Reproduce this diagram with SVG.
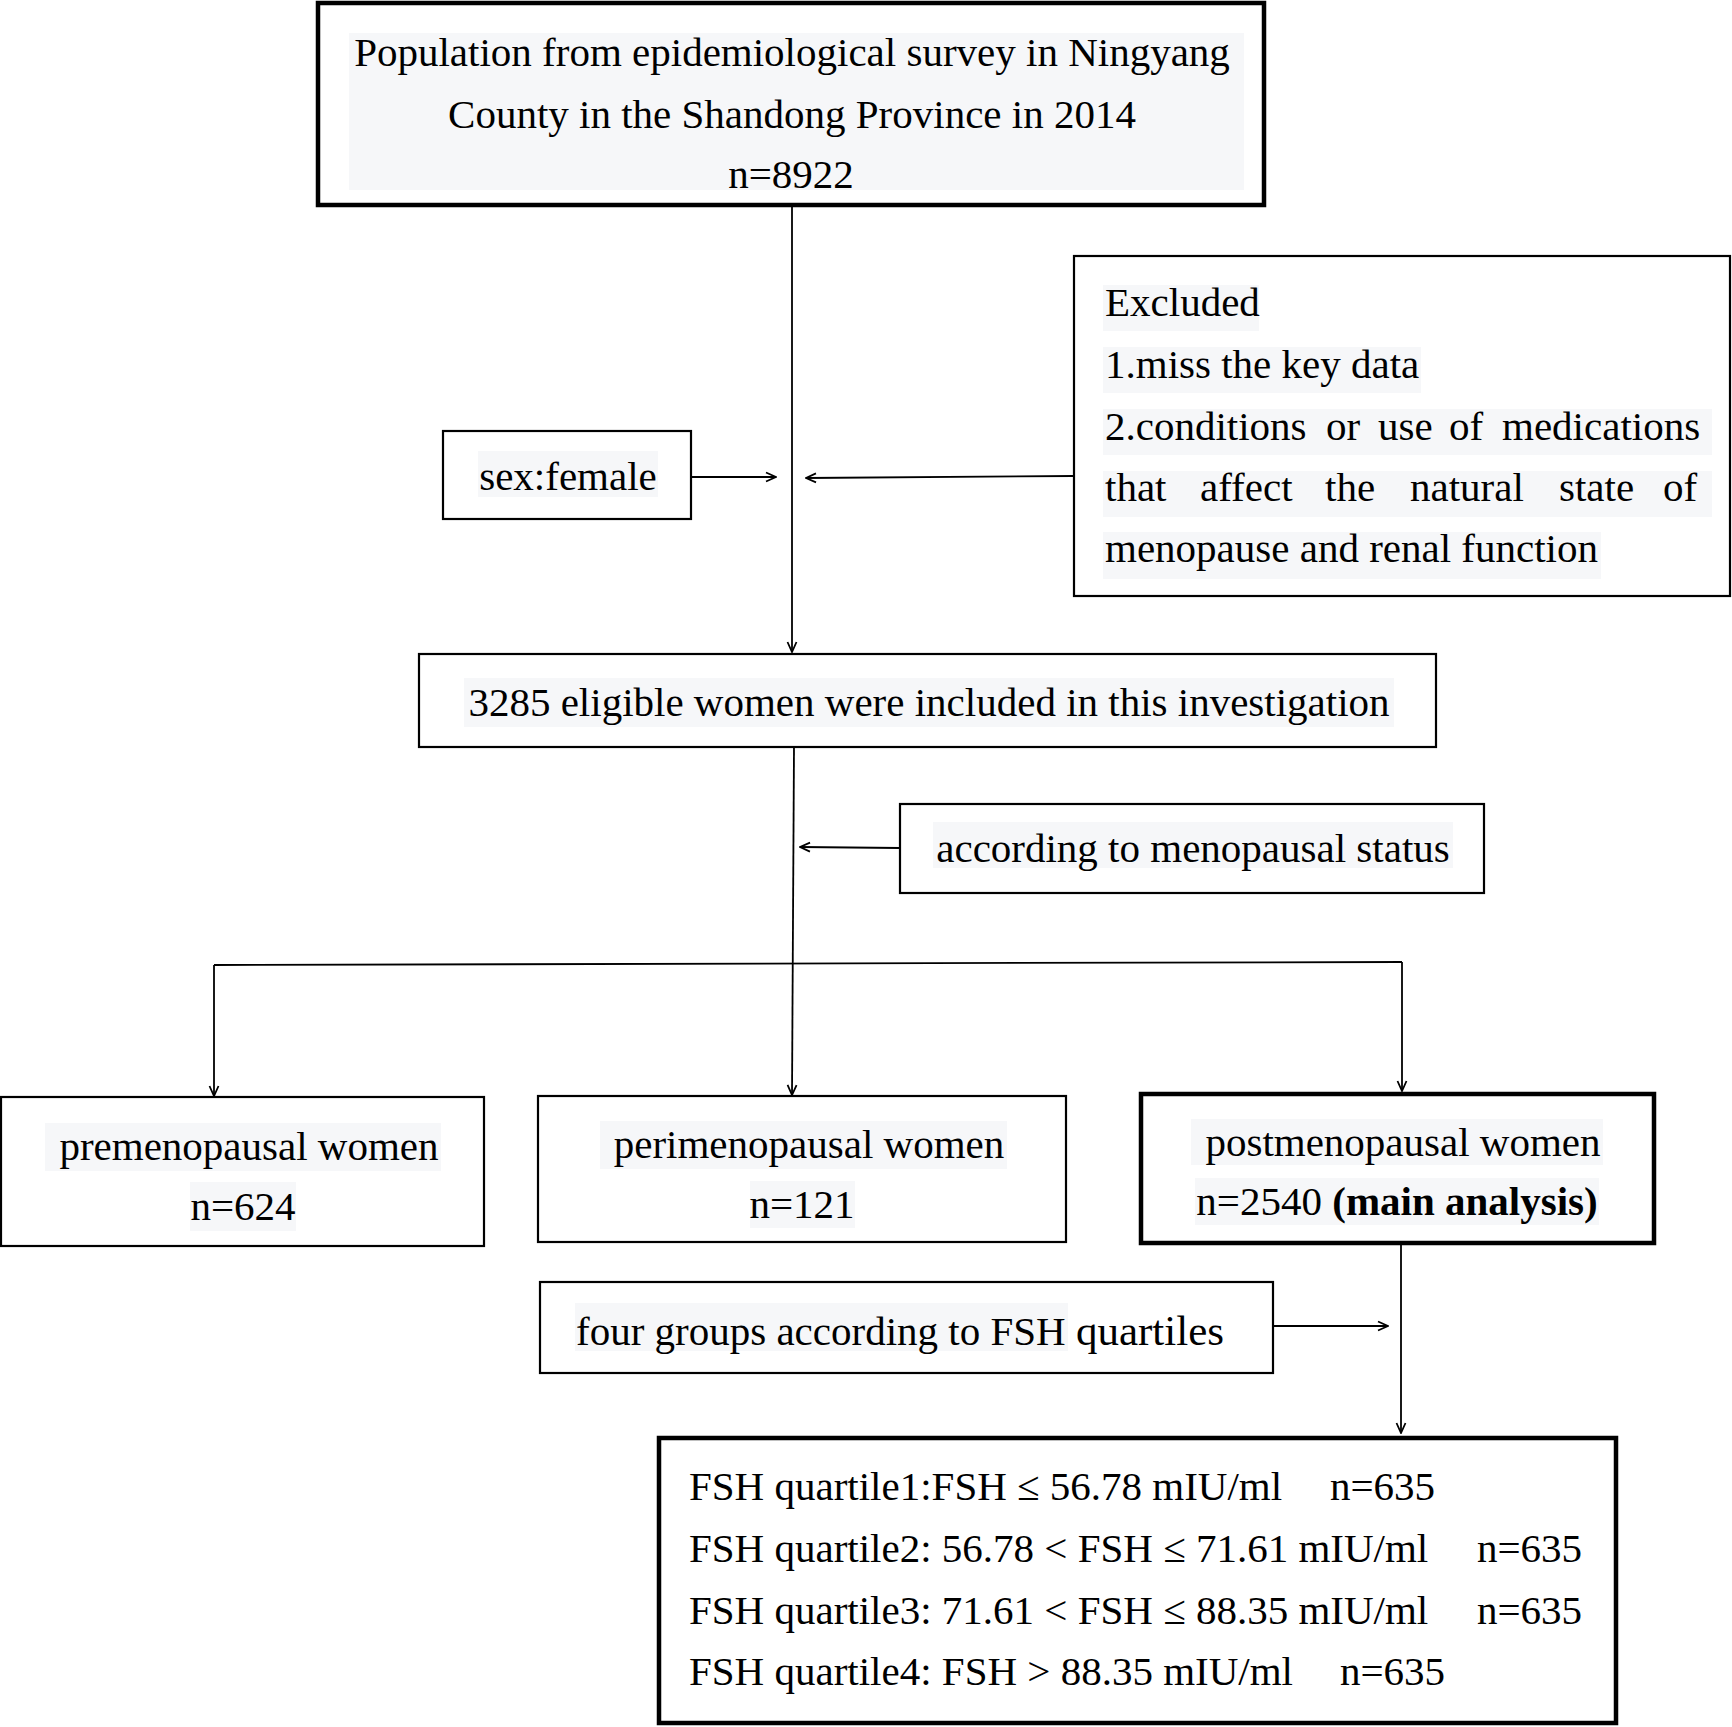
<svg xmlns="http://www.w3.org/2000/svg" width="1732" height="1727" viewBox="0 0 1732 1727">
<style>
text{font-family:"Liberation Serif","Times New Roman",serif;font-size:41px;fill:#000}
.c{text-anchor:middle}
.e{text-anchor:end}
.box{fill:#fff;stroke:#000;stroke-width:2.2}
.thick{fill:#fff;stroke:#000;stroke-width:4.5}
.hl{fill:#f6f7f9}
.ln{fill:none;stroke:#000;stroke-width:1.8}
</style>
<defs>
<marker id="ah" viewBox="0 0 12 12" refX="11" refY="6" markerWidth="12" markerHeight="12" markerUnits="userSpaceOnUse" orient="auto">
<path d="M1,1.5 L11,6 L1,10.5" fill="none" stroke="#000" stroke-width="1.8"/>
</marker>
</defs>
<rect width="1732" height="1727" fill="#fff"/>

<g id="connectors">
<line class="ln" x1="792" y1="205" x2="792" y2="652" marker-end="url(#ah)"/>
<line class="ln" x1="691" y1="477" x2="776" y2="477" marker-end="url(#ah)"/>
<line class="ln" x1="1074" y1="476" x2="806" y2="478" marker-end="url(#ah)"/>
<line class="ln" x1="794" y1="747" x2="792" y2="1095" marker-end="url(#ah)"/>
<line class="ln" x1="900" y1="848" x2="800" y2="847" marker-end="url(#ah)"/>
<polyline class="ln" points="214,965 1402,962"/>
<line class="ln" x1="214" y1="965" x2="214" y2="1096" marker-end="url(#ah)"/>
<line class="ln" x1="1402" y1="962" x2="1402" y2="1091" marker-end="url(#ah)"/>
<line class="ln" x1="1401" y1="1243" x2="1401" y2="1433" marker-end="url(#ah)"/>
<line class="ln" x1="1273" y1="1326" x2="1388" y2="1326" marker-end="url(#ah)"/>
</g>

<g id="node-population">
<rect class="thick" x="318" y="3" width="946" height="202" stroke-width="3.8"/>
<rect class="hl" x="349" y="33" width="895" height="157"/>
<text class="c" x="792" y="66">Population from epidemiological survey in Ningyang</text>
<text class="c" x="792" y="128">County in the Shandong Province in 2014</text>
<text class="c" x="791" y="188">n=8922</text>
</g>

<g id="node-sex">
<rect class="box" x="443" y="431" width="248" height="88"/>
<rect class="hl" x="478" y="451" width="180" height="46"/>
<text class="c" x="568" y="490">sex:female</text>
</g>

<g id="node-excluded">
<rect class="box" x="1074" y="256" width="656" height="340"/>
<rect class="hl" x="1103" y="285" width="156" height="46"/>
<rect class="hl" x="1103" y="347" width="318" height="46"/>
<rect class="hl" x="1103" y="409" width="609" height="46"/>
<rect class="hl" x="1103" y="471" width="609" height="46"/>
<rect class="hl" x="1103" y="532" width="498" height="47"/>
<text x="1105" y="316">Excluded</text>
<text x="1105" y="378">1.miss the key data</text>
<text y="440"><tspan x="1105">2.conditions</tspan><tspan x="1326">or</tspan><tspan x="1378">use</tspan><tspan x="1449">of</tspan><tspan x="1502">medications</tspan></text>
<text y="501"><tspan x="1105">that</tspan><tspan x="1200">affect</tspan><tspan x="1325">the</tspan><tspan x="1410">natural</tspan><tspan x="1559">state</tspan><tspan x="1663">of</tspan></text>
<text x="1105" y="562">menopause and renal function</text>
</g>

<g id="node-eligible">
<rect class="box" x="419" y="654" width="1017" height="93"/>
<rect class="hl" x="464" y="678" width="930" height="49"/>
<text class="c" x="929" y="716">3285 eligible women were included in this investigation</text>
</g>

<g id="node-status">
<rect class="box" x="900" y="804" width="584" height="89"/>
<rect class="hl" x="933" y="822" width="520" height="46"/>
<text class="c" x="1193" y="862">according to menopausal status</text>
</g>

<g id="node-pre">
<rect class="box" x="1" y="1097" width="483" height="149"/>
<rect class="hl" x="45" y="1123" width="396" height="48"/>
<rect class="hl" x="190" y="1182" width="106" height="49"/>
<text class="c" x="249" y="1160">premenopausal women</text>
<text class="c" x="243" y="1220">n=624</text>
</g>

<g id="node-peri">
<rect class="box" x="538" y="1096" width="528" height="146"/>
<rect class="hl" x="600" y="1121" width="407" height="48"/>
<rect class="hl" x="750" y="1181" width="105" height="47"/>
<text class="c" x="809" y="1158">perimenopausal women</text>
<text class="c" x="802" y="1218">n=121</text>
</g>

<g id="node-post">
<rect class="thick" x="1141" y="1094" width="513" height="149"/>
<rect class="hl" x="1191" y="1119" width="412" height="46"/>
<rect class="hl" x="1195" y="1178" width="404" height="47"/>
<text class="c" x="1403" y="1156">postmenopausal women</text>
<text class="c" x="1397" y="1215">n=2540 <tspan font-weight="bold">(main analysis)</tspan></text>
</g>

<g id="node-quartiles-label">
<rect class="box" x="540" y="1282" width="733" height="91"/>
<rect class="hl" x="575" y="1303" width="493" height="48"/>
<text x="576" y="1345">four groups according to FSH <tspan font-size="43">quartiles</tspan></text>
</g>

<g id="node-quartiles">
<rect class="thick" x="659" y="1438" width="957" height="285" stroke-width="5"/>
<text x="689" y="1500">FSH quartile1:FSH ≤ 56.78 mIU/ml</text>
<text x="1330" y="1500">n=635</text>
<text x="689" y="1562">FSH quartile2: 56.78 &lt; FSH ≤ 71.61 mIU/ml</text>
<text x="1477" y="1562">n=635</text>
<text x="689" y="1624">FSH quartile3: 71.61 &lt; FSH ≤ 88.35 mIU/ml</text>
<text x="1477" y="1624">n=635</text>
<text x="689" y="1685">FSH quartile4: FSH &gt; 88.35 mIU/ml</text>
<text x="1340" y="1685">n=635</text>
</g>
</svg>
